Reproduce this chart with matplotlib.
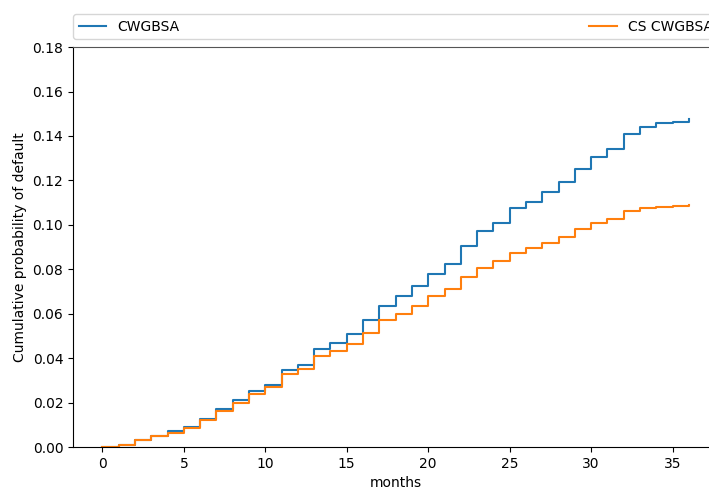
import matplotlib
matplotlib.use("Agg")
import matplotlib.pyplot as plt

months = list(range(37))

cwgbsa = [0.0, 0.001, 0.003, 0.005, 0.007, 0.009, 0.0125, 0.017, 0.021, 0.025,
          0.028, 0.0345, 0.037, 0.044, 0.047, 0.051, 0.057, 0.0635, 0.068, 0.0725,
          0.078, 0.0825, 0.0905, 0.097, 0.101, 0.1075, 0.1105, 0.115, 0.1195, 0.125,
          0.1305, 0.134, 0.141, 0.144, 0.146, 0.1465, 0.1475]

cs_cwgbsa = [0.0, 0.001, 0.003, 0.005, 0.0065, 0.0085, 0.012, 0.016, 0.020, 0.024,
             0.027, 0.033, 0.035, 0.041, 0.043, 0.0465, 0.0515, 0.057, 0.060, 0.0635,
             0.068, 0.071, 0.0765, 0.0805, 0.0835, 0.0875, 0.0895, 0.092, 0.0945, 0.098,
             0.101, 0.1025, 0.106, 0.1075, 0.108, 0.1085, 0.109]

fig = plt.figure(figsize=(7.09, 4.91), dpi=100)
# axes runs off the right edge, as in the original
ax = fig.add_axes([0.103, 0.0896, 0.910, 0.8145])

ax.step(months, cwgbsa, where="post", color="#1f77b4", label="CWGBSA")
ax.step(months, cs_cwgbsa, where="post", color="#ff7f0e", label="CS CWGBSA")

ax.set_ylim(0, 0.18)
ax.set_xlabel("months")
ax.set_ylabel("Cumulative probability of default")
ax.spines["top"].set_color("#555555")

ax.legend(bbox_to_anchor=(0.0, 1.02, 1.0, 0.102), loc="lower left",
          ncol=2, mode="expand", borderaxespad=0.0)

fig.savefig("out.png", dpi=100)
